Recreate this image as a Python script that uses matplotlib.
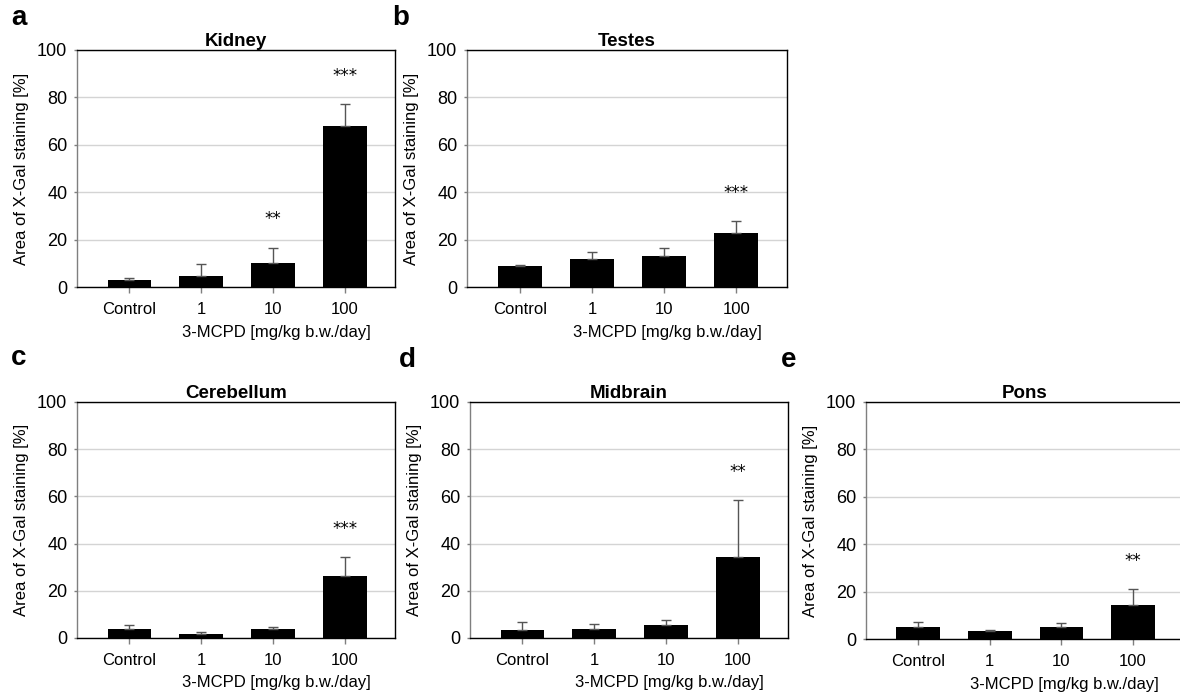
import matplotlib
matplotlib.use("Agg")
import matplotlib.pyplot as plt
import numpy as np

plt.rcParams['font.family'] = ['Liberation Sans', 'DejaVu Sans']

categories = ["Control", "1", "10", "100"]
panel_letters = ["a", "b", "c", "d", "e"]
titles = ["Kidney", "Testes", "Cerebellum", "Midbrain", "Pons"]

kidney_mean = [3.1, 4.5, 10.1, 68.1]
kidney_err = [0.7, 5.2, 6.5, 9.0]
kidney_sig = ["", "", "**", "***"]

testes_mean = [8.7, 12.0, 13.2, 22.8]
testes_err = [0.7, 2.8, 3.1, 4.9]
testes_sig = ["", "", "", "***"]

cerebellum_mean = [3.9, 1.8, 3.8, 26.1]
cerebellum_err = [1.6, 0.7, 0.7, 8.1]
cerebellum_sig = ["", "", "", "***"]

midbrain_mean = [3.5, 3.8, 5.4, 34.4]
midbrain_err = [3.1, 2.1, 2.1, 23.9]
midbrain_sig = ["", "", "", "**"]

pons_mean = [5.1, 3.4, 5.2, 14.2]
pons_err = [1.9, 0.5, 1.4, 6.9]
pons_sig = ["", "", "", "**"]

y_ticks = [0, 20, 40, 60, 80, 100]
ylabel = "Area of X-Gal staining [%]"
xlabel = "3-MCPD [mg/kg b.w./day]"

means = [kidney_mean, testes_mean, cerebellum_mean, midbrain_mean, pons_mean]
errs = [kidney_err, testes_err, cerebellum_err, midbrain_err, pons_err]
sigs = [kidney_sig, testes_sig, cerebellum_sig, midbrain_sig, pons_sig]

W, H = 1180, 700
fig = plt.figure(figsize=(W / 100, H / 100), dpi=100)

# axes boxes in pixels: left, right, top, bottom
boxes = [(77, 395, 50, 287), (467, 787, 50, 287),
         (77, 395, 402, 638), (470, 788, 402, 638), (866, 1183, 402, 639)]
letter_pos = [(11, 31), (392, 31), (11, 371), (399, 373), (781, 373)]

for i, (l, r, t, b) in enumerate(boxes):
    ax = fig.add_axes([l / W, (H - b) / H, (r - l) / W, (b - t) / H])
    x = np.arange(len(categories))
    ax.bar(x, means[i], width=0.61, color='black', zorder=3)
    ax.errorbar(x, means[i], yerr=[np.zeros(len(x)), errs[i]], fmt='none',
                ecolor='#555555', elinewidth=1.0, capsize=3.5, capthick=1.0, zorder=4)
    for xi, m, e, s in zip(x, means[i], errs[i], sigs[i]):
        if s:
            ax.annotate(s, (xi, m + e), xytext=(0, 14), textcoords='offset points',
                        ha='center', va='bottom', fontsize=12,
                        family=['DejaVu Sans'])
    ax.set_ylim(0, 100)
    ax.set_xlim(-0.73, 3.7)
    ax.set_yticks(y_ticks)
    ax.set_xticks(x)
    ax.set_xticklabels(categories)
    ax.yaxis.grid(True, color='#d4d4d4', linewidth=1.0, zorder=0)
    ax.set_axisbelow(True)
    for sp in ['top', 'right', 'bottom']:
        ax.spines[sp].set_color('black')
        ax.spines[sp].set_linewidth(1.0)
    ax.spines['left'].set_color('#7f7f7f')
    ax.spines['left'].set_linewidth(1.0)
    ax.tick_params(axis='x', direction='out', length=4, width=1, color='#7f7f7f',
                   labelsize=12, pad=7)
    ax.tick_params(axis='y', direction='out', length=2, width=1, color='#7f7f7f',
                   labelsize=13, pad=5)
    ax.set_title(titles[i], fontsize=13.5, fontweight='bold', pad=3)
    ax.set_ylabel(ylabel, fontsize=12, labelpad=6)
    # x label offset toward right, as in the reference
    cx = (l + r) / 2 + 40
    ylab = b + 45
    fig.text(cx / W, (H - ylab) / H, xlabel, ha='center', va='center', fontsize=12)
    lx, ly = letter_pos[i]
    fig.text(lx / W, (H - ly) / H, panel_letters[i], ha='left', va='bottom',
             fontsize=20, fontweight='bold')

fig.savefig("out.png", dpi=100)
